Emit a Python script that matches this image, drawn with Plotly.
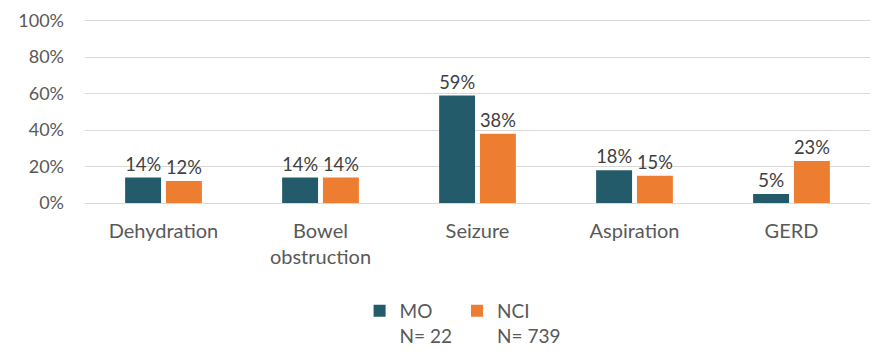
import plotly.graph_objects as go

categories = ["Dehydration", "Bowel<br>obstruction", "Seizure", "Aspiration", "GERD"]
mo_values = [14, 14, 59, 18, 5]
nci_values = [12, 14, 38, 15, 23]
series_names = ["MO<br>N= 22", "NCI<br>N= 739"]
y_ticks = [0, 20, 40, 60, 80, 100]
y_tick_labels = ["0%", "20%", "40%", "60%", "80%", "100%"]

MO_COLOR = "#235B6B"
NCI_COLOR = "#ED7D31"
TEXT = "#595959"
FONT = "Lato, Calibri, sans-serif"

fig = go.Figure()
for name, vals, col in [(series_names[0], mo_values, MO_COLOR), (series_names[1], nci_values, NCI_COLOR)]:
    fig.add_trace(go.Bar(
        x=categories, y=vals, name=name, marker=dict(color=col, line=dict(width=0)),
        text=[f"{v}%" for v in vals], textposition="outside", cliponaxis=False,
        textfont=dict(size=19, color="#404040", family=FONT),
    ))

fig.update_layout(
    width=884, height=354,
    margin=dict(l=77, r=22, t=9, b=159, autoexpand=False),
    paper_bgcolor="white", plot_bgcolor="white",
    barmode="group", bargap=0.48, bargroupgap=0.12,
    font=dict(family=FONT, size=19, color=TEXT),
    showlegend=True,
    legend=dict(
        orientation="h", x=0.481, xanchor="center",
        yref="container", y=0.198, yanchor="top",
        valign="top", font=dict(size=19, color=TEXT, family=FONT),
        traceorder="normal",
    ),
    xaxis=dict(showgrid=False, showline=False, ticks="", ticklabelstandoff=14,
               tickfont=dict(size=20, color=TEXT)),
    yaxis=dict(range=[0, 102], tickvals=y_ticks, ticktext=y_tick_labels,
               showgrid=True, gridcolor="#D9D9D9", gridwidth=1,
               zeroline=True, zerolinecolor="#D9D9D9", zerolinewidth=1,
               showline=False, ticks="", ticklabelstandoff=20,
               ticklabeloverflow="allow",
               tickfont=dict(size=18, color=TEXT)),
)

fig.write_html("out.html")
